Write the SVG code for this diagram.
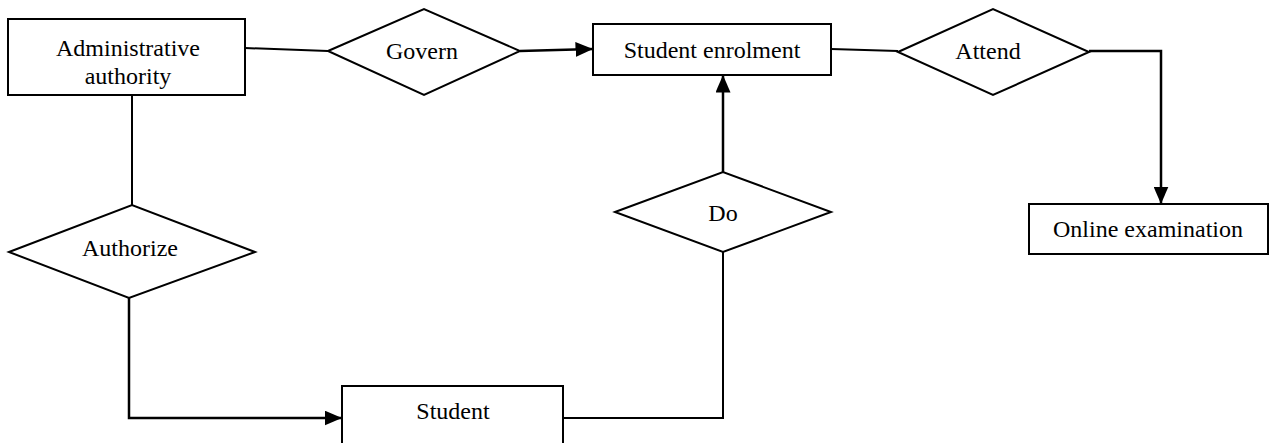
<svg xmlns="http://www.w3.org/2000/svg" width="1271" height="443" viewBox="0 0 1271 443">
<style>
.shape{fill:#fff;stroke:#000;stroke-width:2}
.line{fill:none;stroke:#000;stroke-width:2}
.arrow{fill:none;stroke:#000;stroke-width:2.5;marker-end:url(#ah)}
text{font-family:"Liberation Serif","Times New Roman",serif;font-size:24px;fill:#000;text-anchor:middle}
</style>
<defs>
<marker id="ah" markerWidth="7" markerHeight="6" refX="7" refY="3" orient="auto" markerUnits="strokeWidth">
<path d="M0,0 L7,3 L0,6 Z" fill="#000"/>
</marker>
</defs>
<rect width="1271" height="443" fill="#fff"/>
<g id="connectors">
<path class="line" d="M245,48 L328,51"/>
<path class="arrow" d="M520,51 L593,49"/>
<path class="line" d="M831,49 L898,51"/>
<path class="arrow" d="M1089,51 L1161,51 L1161,204"/>
<path class="line" d="M132,95 L132,205"/>
<path class="arrow" d="M129,298 L129,418 L342,418"/>
<path class="line" d="M563,418 L723,418 L723,252"/>
<path class="arrow" d="M723,172 L723,75"/>
</g>
<g id="admin">
<rect class="shape" x="8" y="19" width="237" height="76"/>
<text x="128" y="56">Administrative</text>
<text x="128" y="84">authority</text>
</g>
<g id="govern">
<polygon class="shape" points="328,51 424,9 520,51 424,95"/>
<text x="422" y="59">Govern</text>
</g>
<g id="enrolment">
<rect class="shape" x="593" y="24" width="238" height="51"/>
<text x="712" y="58">Student enrolment</text>
</g>
<g id="attend">
<polygon class="shape" points="898,52 993,9 1089,52 993,95"/>
<text x="988" y="59">Attend</text>
</g>
<g id="online">
<rect class="shape" x="1029" y="204" width="239" height="50"/>
<text x="1148" y="237">Online examination</text>
</g>
<g id="authorize">
<polygon class="shape" points="9,252 132,205 255,252 129,298"/>
<text x="130" y="256">Authorize</text>
</g>
<g id="do">
<polygon class="shape" points="615,212 723,172 831,212 723,252"/>
<text x="723" y="221">Do</text>
</g>
<g id="student">
<rect class="shape" x="342" y="386" width="221" height="70"/>
<text x="453" y="419">Student</text>
</g>
</svg>
